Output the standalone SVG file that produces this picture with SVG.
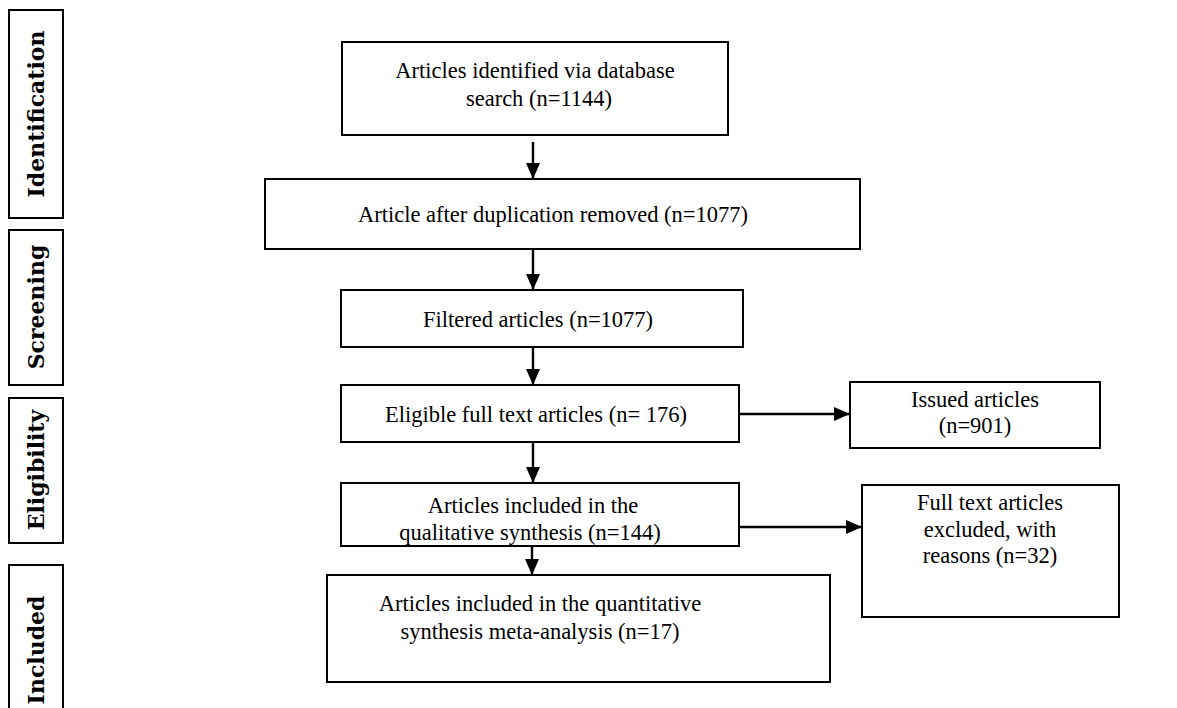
<svg xmlns="http://www.w3.org/2000/svg" width="1177" height="708" viewBox="0 0 1177 708">
<style>
.box{fill:#fff;stroke:#000;stroke-width:2}
.t{font-family:"Liberation Serif",serif;font-size:22.5px;fill:#000;text-anchor:middle}
.lbl{font-family:"DejaVu Serif",serif;font-weight:bold;font-size:22px;fill:#000;text-anchor:middle}
.c{stroke:#000;stroke-width:2.4;fill:none;marker-end:url(#ah)}
</style>
<defs>
<marker id="ah" markerWidth="16" markerHeight="14" refX="16" refY="7" orient="auto" markerUnits="userSpaceOnUse"><path d="M0,0 L16,7 L0,14 Z" fill="#000"/></marker>
</defs>
<rect width="1177" height="708" fill="#fff"/>
<g id="stage-identification"><rect class="box" x="9" y="10" width="54" height="208"/><text class="lbl" transform="translate(44,114) rotate(-90)">Identification</text></g>
<g id="stage-screening"><rect class="box" x="9" y="230" width="54" height="155"/><text class="lbl" transform="translate(44,307) rotate(-90)">Screening</text></g>
<g id="stage-eligibility"><rect class="box" x="9" y="398" width="54" height="145"/><text class="lbl" transform="translate(44,470) rotate(-90)">Eligibility</text></g>
<g id="stage-included"><rect class="box" x="9" y="565" width="54" height="170"/><text class="lbl" transform="translate(44,650) rotate(-90)">Included</text></g>
<g id="connectors">
<path class="c" d="M533,142 V179"/>
<path class="c" d="M533,249 V290"/>
<path class="c" d="M533,347 V385"/>
<path class="c" d="M533,442 V483"/>
<path class="c" d="M532,546 V575"/>
<path class="c" d="M739,414 H850"/>
<path class="c" d="M739,527 H862"/>
</g>
<g id="n1"><rect class="box" x="342" y="42" width="386" height="93"/><text class="t" x="535" y="78">Articles identified via database</text><text class="t" x="539" y="106">search (n=1144)</text></g>
<g id="n2"><rect class="box" x="265" y="179" width="595" height="70"/><text class="t" x="553" y="222">Article after duplication removed (n=1077)</text></g>
<g id="n3"><rect class="box" x="341" y="290" width="402" height="57"/><text class="t" x="538" y="327">Filtered articles (n=1077)</text></g>
<g id="n4"><rect class="box" x="341" y="385" width="398" height="57"/><text class="t" x="536" y="422">Eligible full text articles (n= 176)</text></g>
<g id="n5"><rect class="box" x="341" y="483" width="398" height="63"/><text class="t" x="533" y="513">Articles included in the</text><text class="t" x="530" y="540">qualitative synthesis (n=144)</text></g>
<g id="n6"><rect class="box" x="850" y="382" width="250" height="66"/><text class="t" x="975" y="407">Issued articles</text><text class="t" x="975" y="433">(n=901)</text></g>
<g id="n7"><rect class="box" x="862" y="485" width="257" height="132"/><text class="t" x="990" y="510">Full text articles</text><text class="t" x="990" y="537">excluded, with</text><text class="t" x="990" y="563">reasons (n=32)</text></g>
<g id="n8"><rect class="box" x="327" y="575" width="503" height="107"/><text class="t" x="540" y="611">Articles included in the quantitative</text><text class="t" x="540" y="639">synthesis meta-analysis (n=17)</text></g>
</svg>
